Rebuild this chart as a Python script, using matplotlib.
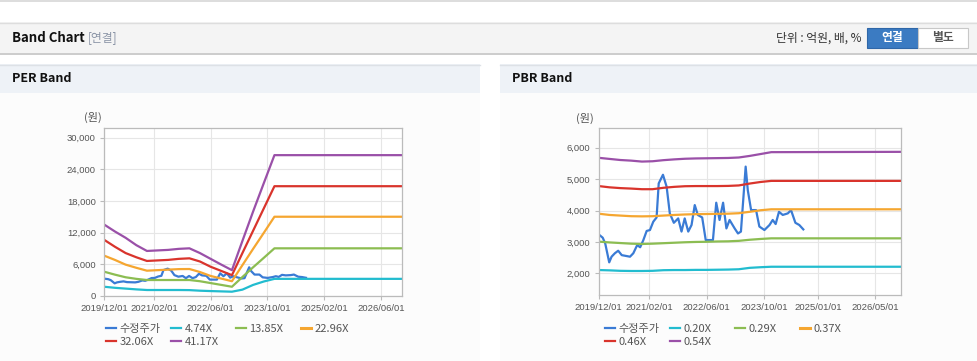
import matplotlib.pyplot as plt
import matplotlib.dates as mdates
import pandas as pd
from matplotlib.patches import Rectangle

plt.rcParams['font.family'] = ['Noto Sans CJK KR', 'DejaVu Sans']

# adjusted share price (same series on both charts)
price_dates = ['2019-12-01', '2020-01-04', '2020-01-25', '2020-02-28', '2020-03-19', '2020-04-16',
               '2020-05-14', '2020-06-13', '2020-07-25', '2020-08-22', '2020-09-19', '2020-10-22',
               '2020-11-16', '2020-12-13', '2021-01-10', '2021-02-07', '2021-03-07', '2021-04-04',
               '2021-04-22', '2021-05-28', '2021-06-28', '2021-07-25', '2021-08-28', '2021-10-04',
               '2021-11-01', '2021-11-28', '2021-12-28', '2022-01-25', '2022-02-21', '2022-03-19',
               '2022-04-25', '2022-05-25', '2022-06-28', '2022-07-25', '2022-08-22', '2022-09-19',
               '2022-10-19', '2022-11-16', '2022-12-13', '2023-01-25', '2023-02-22', '2023-03-19',
               '2023-04-28', '2023-05-16', '2023-06-13', '2023-07-25', '2023-08-22', '2023-10-04',
               '2023-11-16', '2023-12-13', '2024-01-07', '2024-02-04', '2024-03-07', '2024-04-19',
               '2024-05-16', '2024-06-22', '2024-07-25', '2024-08-28']
price = [3240, 3135, 2955, 2350, 2530, 2640,
         2720, 2580, 2550, 2530, 2640, 2900,
         2830, 3060, 3350, 3380, 3645, 3780,
         4865, 5140, 4760, 3910, 3610, 3750,
         3330, 3750, 3330, 3540, 4175, 3860,
         3780, 3060, 3060, 3060, 4250, 3700,
         4250, 3430, 3700, 3430, 3270, 3330,
         5400, 4650, 4015, 4015, 3490, 3380,
         3540, 3700, 3570, 3960, 3860, 3910,
         4015, 3610, 3540, 3400]

band_dates = ['2019-12-01', '2020-03-01', '2020-06-01', '2020-09-01', '2020-12-01', '2021-03-01',
              '2021-06-01', '2021-09-01', '2021-12-01', '2022-03-01', '2022-06-01', '2022-09-01',
              '2022-12-01', '2023-03-01', '2023-06-01', '2023-09-01', '2023-12-01', '2026-12-01']

per_labels = ['4.74X', '13.85X', '22.96X', '32.06X', '41.17X']
per_474 = [1700, 1500, 1350, 1200, 1080, 1080, 1080, 1080, 1060, 950, 880, 820, 760, 1150, 2050, 2700, 3200, 3200]
per_1385 = [4550, 4000, 3500, 3200, 2980, 2980, 2980, 2980, 2980, 2750, 2400, 2050, 1700, 3550, 5400, 7200, 9000, 9000]
per_2296 = [7600, 6800, 5900, 5300, 4750, 4850, 4950, 5050, 5070, 4500, 3750, 3250, 2750, 5800, 8900, 11950, 15000, 15000]
per_3206 = [10600, 9300, 8100, 7300, 6600, 6700, 6800, 7000, 7100, 6500, 5500, 4700, 3900, 8100, 12350, 16600, 20800, 20800]
per_4117 = [13500, 12200, 11000, 9600, 8500, 8600, 8700, 8900, 9000, 8100, 7000, 5900, 4850, 10400, 16000, 21400, 26700, 26700]

pbr_labels = ['0.20X', '0.29X', '0.37X', '0.46X', '0.54X']
pbr_020 = [2105, 2095, 2080, 2075, 2075, 2080, 2100, 2105, 2105, 2110, 2110, 2115, 2120, 2130, 2175, 2195, 2210, 2210]
pbr_029 = [3010, 2985, 2965, 2945, 2935, 2945, 2960, 2975, 2990, 3000, 3005, 3015, 3020, 3035, 3070, 3095, 3115, 3115]
pbr_037 = [3900, 3860, 3840, 3820, 3815, 3820, 3840, 3860, 3875, 3885, 3890, 3895, 3900, 3915, 3960, 4010, 4040, 4040]
pbr_046 = [4780, 4740, 4715, 4700, 4680, 4680, 4725, 4755, 4775, 4780, 4780, 4780, 4785, 4800, 4860, 4910, 4945, 4945]
pbr_054 = [5680, 5645, 5610, 5590, 5560, 5570, 5605, 5630, 5650, 5660, 5665, 5670, 5675, 5690, 5740, 5800, 5860, 5870]

per_xticks = ['2019-12-01', '2021-02-01', '2022-06-01', '2023-10-01', '2025-02-01', '2026-06-01']
pbr_xticks = ['2019-12-01', '2021-02-01', '2022-06-01', '2023-10-01', '2025-01-01', '2026-05-01']
per_yticks = [0, 6000, 12000, 18000, 24000, 30000]
pbr_yticks = [2000, 3000, 4000, 5000, 6000]

price_color = '#3a7bd5'
band_colors = ['#22bccf', '#8cbd52', '#f5a630', '#d9342c', '#9a50a8']

W, H = 978, 361
fig = plt.figure(figsize=(W / 100, H / 100), dpi=100)

# page furniture drawn in pixel coordinates
bg = fig.add_axes([0, 0, 1, 1], zorder=0)
bg.set_xlim(0, W)
bg.set_ylim(H, 0)
bg.axis('off')
bg.add_patch(Rectangle((0, 0), W, 2, color='#dddddd', lw=0))
bg.add_patch(Rectangle((0, 22), W, 31, facecolor='#f4f4f4', edgecolor='none'))
bg.plot([0, W], [22.5, 22.5], color='#dddddd', lw=1)
bg.plot([0, W], [53.5, 53.5], color='#c4c4c4', lw=1.2)
bg.text(12, 38, 'Band Chart', fontsize=9.5, fontweight='bold', color='#111111', va='center')
bg.text(88, 38, '[연결]', fontsize=8.5, color='#8a94a6', va='center')
bg.text(862, 38, '단위 : 억원, 배, %', fontsize=8.5, color='#333333', va='center', ha='right')
bg.add_patch(Rectangle((867, 28), 51, 20, facecolor='#3b7bc2', edgecolor='#2f67a8', lw=0.8))
bg.add_patch(Rectangle((918, 28), 50, 20, facecolor='white', edgecolor='#c8c8c8', lw=0.8))
bg.text(892.5, 38, '연결', fontsize=8.5, fontweight='bold', color='white', ha='center', va='center')
bg.text(943, 38, '별도', fontsize=8.5, fontweight='bold', color='#555555', ha='center', va='center')

for x0, x1, title in [(0, 480, 'PER Band'), (500, W, 'PBR Band')]:
    bg.add_patch(Rectangle((x0, 93), x1 - x0, H - 93, facecolor='#fcfcfc', edgecolor='none'))
    bg.add_patch(Rectangle((x0, 64), x1 - x0, 29, facecolor='#eef2f7', edgecolor='none'))
    bg.plot([x0, x1], [64.5, 64.5], color='#dde1e6', lw=1)
    bg.text(x0 + 12, 79, title, fontsize=9, fontweight='bold', color='#111111', va='center')

bg.text(93, 117, '(원)', fontsize=8, color='#555555', ha='center', va='center')
bg.text(585, 118, '(원)', fontsize=8, color='#555555', ha='center', va='center')


def draw_band(rect, bands, labels, xticks, yticks, ylim, leg_x):
    ax = fig.add_axes(rect, zorder=2)
    ax.set_facecolor('white')
    lines = []
    l, = ax.plot(pd.to_datetime(price_dates), price, color=price_color, lw=1.6, label='수정주가')
    lines.append(l)
    for vals, lab, c in zip(bands, labels, band_colors):
        l, = ax.plot(pd.to_datetime(band_dates), vals, color=c, lw=1.6, label=lab)
        lines.append(l)
    ax.set_xlim(pd.Timestamp('2019-12-01'), pd.Timestamp('2026-12-03'))
    ax.set_ylim(*ylim)
    ax.set_xticks(pd.to_datetime(xticks))
    ax.xaxis.set_major_formatter(mdates.DateFormatter('%Y/%m/%d'))
    ax.set_yticks(yticks)
    ax.set_yticklabels([f'{v:,}' for v in yticks])
    ax.grid(True, color='#e6e6e6', lw=0.8)
    ax.set_axisbelow(True)
    for s in ax.spines.values():
        s.set_color('#bbbbbb')
        s.set_linewidth(0.9)
    ax.tick_params(length=3, width=0.8, color='#bbbbbb', labelsize=6.8, labelcolor='#555555',
                   pad=3, labelfontfamily='Liberation Sans')
    # legend: fixed-width columns, row-major order
    for i in range(4):
        hs = [lines[j] for j in (i, i + 4) if j < len(lines)]
        fig.legend(handles=hs, loc='upper left',
                   bbox_to_anchor=((leg_x + 65 * i) / W, 1 - 324 / H),
                   frameon=False, fontsize=8, labelcolor='#555555', handlelength=0.9,
                   handletextpad=0.3, borderpad=0, borderaxespad=0, labelspacing=0.25)
    for lh in fig.legends[-1].get_lines():
        lh.set_linewidth(2.2)
    return ax


draw_band([104.3 / W, 1 - 295.7 / H, 298 / W, 167.4 / H],
          [per_474, per_1385, per_2296, per_3206, per_4117], per_labels,
          per_xticks, per_yticks, (0, 31800), 106)
draw_band([598.7 / W, 1 - 295 / H, 302.3 / W, 166.7 / H],
          [pbr_020, pbr_029, pbr_037, pbr_046, pbr_054], pbr_labels,
          pbr_xticks, pbr_yticks, (1310, 6620), 605)

fig.savefig('out.png', dpi=100, facecolor='white')
